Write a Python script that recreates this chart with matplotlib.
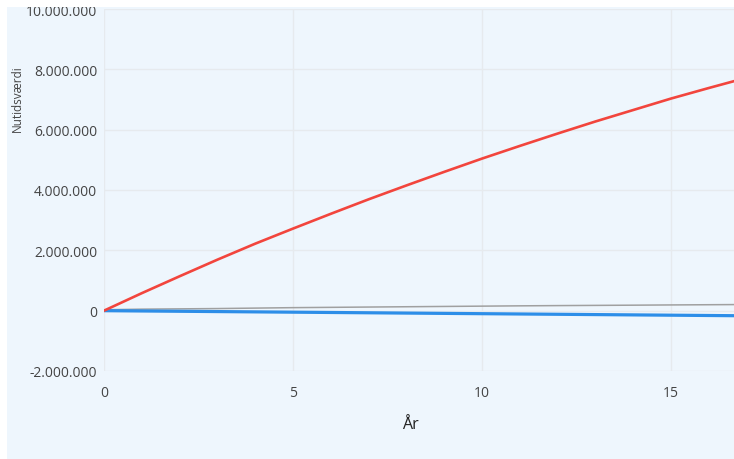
import matplotlib
matplotlib.use("Agg")
import matplotlib.pyplot as plt
from matplotlib.patches import Rectangle
from matplotlib.ticker import FuncFormatter

# Data (values in kroner)
years = [0, 1, 2, 3, 4, 5, 6, 7, 8, 9, 10, 11, 12, 13, 14, 15, 16, 17]
red_values = [0, 580000, 1140000, 1690000, 2220000, 2720000, 3210000, 3690000,
              4150000, 4600000, 5040000, 5460000, 5870000, 6270000, 6650000,
              7030000, 7380000, 7720000]
gray_values = [30000, 50000, 60000, 70000, 85000, 100000, 110000, 120000,
               130000, 140000, 150000, 160000, 168000, 175000, 182000,
               190000, 197000, 204000]
blue_values = [0, -10000, -20000, -30000, -40000, -50000, -60000, -70000,
               -80000, -90000, -100000, -110000, -120000, -130000, -140000,
               -150000, -160000, -170000]
y_ticks = [-2000000, 0, 2000000, 4000000, 6000000, 8000000, 10000000]
x_ticks = [0, 5, 10, 15]

W, H = 734, 460
bg = "#EEF6FD"
txt = "#444444"
plt.rcParams["font.family"] = ["Open Sans", "DejaVu Sans"]

fig = plt.figure(figsize=(W / 100, H / 100), dpi=100)
fig.patch.set_facecolor("white")
# light blue panel behind everything
fig.add_artist(Rectangle((7 / W, 0), 1 - 7 / W, 1 - 8 / H, transform=fig.transFigure,
                         facecolor=bg, edgecolor="none", zorder=-10))

ax = fig.add_axes([104 / W, 1 - 372 / H, 1 - 104 / W, (372 - 10) / H])
ax.set_facecolor(bg)

ax.plot(years, gray_values, color="#A0A0A0", linewidth=1.1, zorder=3)
ax.plot(years, blue_values, color="#2D8EE8", linewidth=2.3, zorder=4)
ax.plot(years, red_values, color="#F2453D", linewidth=1.9, zorder=5)

ax.set_xlim(0, 16.67)
ax.set_ylim(-2000000, 10000000)
ax.set_xticks(x_ticks)
ax.set_yticks(y_ticks)
ax.yaxis.set_major_formatter(FuncFormatter(lambda v, p: f"{v:,.0f}".replace(",", ".")))
ax.tick_params(length=0, labelsize=10, colors=txt)
ax.tick_params(axis="x", pad=10)
ax.tick_params(axis="y", pad=5)
ax.grid(True, color="#E6EAEE", linewidth=1)
ax.set_axisbelow(True)
for s in ax.spines.values():
    s.set_visible(False)

fig.text(17 / W, 1 - 99 / H, "Nutidsværdi", rotation=90, ha="center", va="center",
         fontsize=8.5, color=txt)
fig.text(410 / W, 1 - 425 / H, "År", ha="center", va="center", fontsize=11.5, color="#222222")

# white strip over the top edge (clips the top tick label like the original)
fig.add_artist(Rectangle((0, 1 - 8 / H), 1, 8 / H, transform=fig.transFigure,
                         facecolor="white", edgecolor="none", zorder=20))

fig.savefig("out.png", dpi=100, facecolor=fig.get_facecolor())
